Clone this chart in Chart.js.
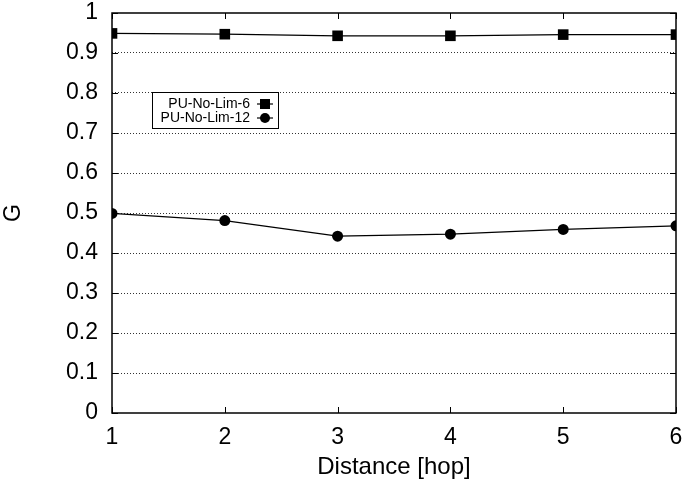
<!DOCTYPE html>
<html>
<head>
<meta charset="utf-8">
<script src="https://cdn.jsdelivr.net/npm/chart.js@4/dist/chart.umd.min.js"></script>
<style>
  html, body { margin: 0; padding: 0; background: #fff; }
  #wrap { width: 685px; height: 490px; }
</style>
</head>
<body>
<div id="wrap"><canvas id="myChart"></canvas></div>
<script>
// data
var hops = [1, 2, 3, 4, 5, 6];
var lim6 = [0.949, 0.947, 0.943, 0.943, 0.946, 0.946];
var lim12 = [0.499, 0.481, 0.442, 0.447, 0.459, 0.468];
var seriesNames = ["PU-No-Lim-6", "PU-No-Lim-12"];
var yTicks = [0, 0.1, 0.2, 0.3, 0.4, 0.5, 0.6, 0.7, 0.8, 0.9, 1];

var FONT = "'Liberation Sans', Arial, sans-serif";

function toPoints(xs, ys) {
  var a = [];
  for (var i = 0; i < xs.length; i++) a.push({ x: xs[i], y: ys[i] });
  return a;
}

// frame, inward ticks and the gnuplot-like key
var framePlugin = {
  id: "frame",
  afterDraw: function (chart) {
    var ctx = chart.ctx, a = chart.chartArea;
    var xs = chart.scales.x, ys = chart.scales.y;
    ctx.save();
    ctx.strokeStyle = "#000";
    ctx.lineWidth = 1.5;
    ctx.strokeRect(a.left, a.top, a.right - a.left, a.bottom - a.top);
    ctx.lineWidth = 1;
    ctx.beginPath();
    yTicks.forEach(function (v) {
      var py = Math.round(ys.getPixelForValue(v)) + 0.5;
      ctx.moveTo(a.left, py); ctx.lineTo(a.left + 6, py);
      ctx.moveTo(a.right, py); ctx.lineTo(a.right - 6, py);
    });
    hops.forEach(function (v) {
      var px = Math.round(xs.getPixelForValue(v)) + 0.5;
      ctx.moveTo(px, a.bottom); ctx.lineTo(px, a.bottom - 6);
      ctx.moveTo(px, a.top); ctx.lineTo(px, a.top + 6);
    });
    ctx.stroke();

    // key box
    var bx = 152, by = 92, bw = 126, bh = 36;
    ctx.fillStyle = "#fff";
    ctx.fillRect(bx, by, bw, bh);
    ctx.strokeStyle = "#000";
    ctx.lineWidth = 1;
    ctx.strokeRect(bx + 0.5, by + 0.5, bw, bh);
    ctx.font = "14px " + FONT;
    ctx.textAlign = "right";
    ctx.textBaseline = "middle";
    ctx.fillStyle = "#000";
    var rows = [by + 12, by + 26];
    seriesNames.forEach(function (name, i) {
      var ry = rows[i];
      ctx.fillText(name, 250, ry);
      ctx.beginPath();
      ctx.moveTo(257, ry); ctx.lineTo(273, ry);
      ctx.lineWidth = 1.2;
      ctx.stroke();
      ctx.beginPath();
      if (i === 0) {
        ctx.rect(260, ry - 5, 10, 10);
      } else {
        ctx.arc(265, ry, 5, 0, Math.PI * 2);
      }
      ctx.fill();
    });
    ctx.restore();
  }
};

var ctx = document.getElementById("myChart").getContext("2d");
var chart = new Chart(ctx, {
  type: "line",
  data: {
    datasets: [
      {
        label: seriesNames[0],
        data: toPoints(hops, lim6),
        borderColor: "#000",
        backgroundColor: "#000",
        borderWidth: 1.3,
        pointStyle: "rect",
        pointRadius: 7.5,
        pointHoverRadius: 7.5,
        pointBorderWidth: 0
      },
      {
        label: seriesNames[1],
        data: toPoints(hops, lim12),
        borderColor: "#000",
        backgroundColor: "#000",
        borderWidth: 1.3,
        pointStyle: "circle",
        pointRadius: 5.5,
        pointHoverRadius: 5.5,
        pointBorderWidth: 0
      }
    ]
  },
  options: {
    responsive: true,
    maintainAspectRatio: false,
    animation: false,
    events: [],
    layout: { padding: { left: 0, right: 9, top: 13, bottom: 0 } },
    plugins: {
      legend: { display: false },
      tooltip: { enabled: false }
    },
    scales: {
      x: {
        type: "linear",
        min: 1,
        max: 6,
        afterFit: function (s) {
          s.height = 77;
          s.paddingLeft = 0;
          s.paddingRight = 0;
        },
        ticks: {
          stepSize: 1,
          color: "#000",
          padding: 11,
          font: { family: FONT, size: 23 }
        },
        grid: { display: false, drawTicks: false },
        border: { display: false },
        title: {
          display: true,
          text: "Distance [hop]",
          color: "#000",
          padding: { top: 4, bottom: 8 },
          font: { family: FONT, size: 24 }
        }
      },
      y: {
        min: 0,
        max: 1,
        afterFit: function (s) {
          s.width = 112;
          s.paddingTop = 0;
          s.paddingBottom = 0;
        },
        afterBuildTicks: function (s) {
          s.ticks = yTicks.map(function (v) { return { value: v }; });
        },
        ticks: {
          color: "#000",
          padding: 14,
          font: { family: FONT, size: 23 },
          callback: function (v) { return String(Math.round(v * 10) / 10); }
        },
        grid: {
          drawTicks: false,
          color: function (c) {
            return (c.tick.value === 0 || c.tick.value === 1) ? "rgba(0,0,0,0)" : "#333";
          },
          lineWidth: 1
        },
        border: { display: false, dash: [1, 2] },
        title: {
          display: true,
          text: "G",
          color: "#000",
          padding: { top: 0, bottom: 0 },
          font: { family: FONT, size: 23 }
        }
      }
    }
  },
  plugins: [framePlugin]
});
</script>
</body>
</html>
